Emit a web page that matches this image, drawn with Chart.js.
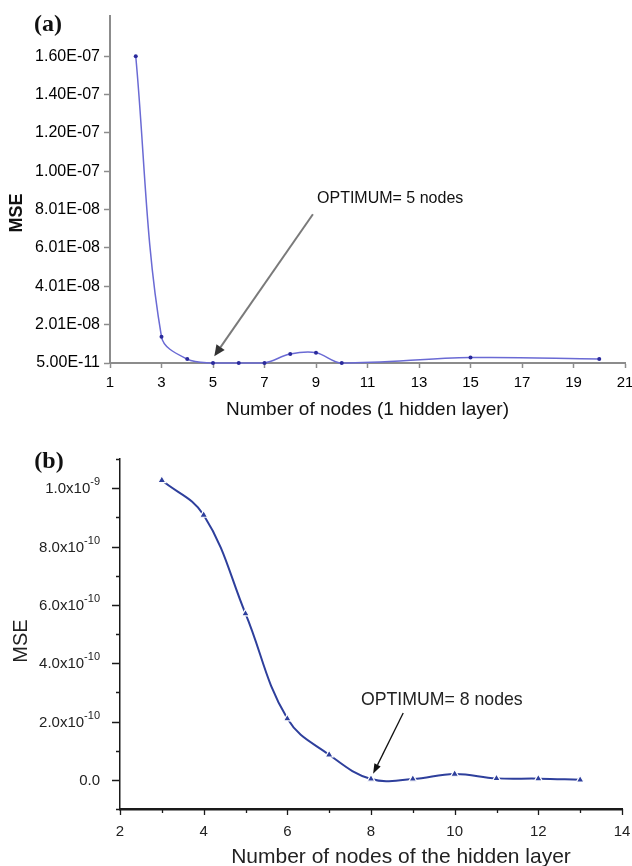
<!DOCTYPE html>
<html>
<head>
<meta charset="utf-8">
<script src="https://cdn.jsdelivr.net/npm/chart.js@4.4.1/dist/chart.umd.min.js"></script>
<style>
  body { margin: 0; background: #fff; width: 632px; height: 866px; position: relative; overflow: hidden; }
  .panel { position: absolute; left: 0; width: 632px; }
  #wrapA { top: 0; height: 425px; }
  #wrapB { top: 430px; height: 436px; }
</style>
</head>
<body>
<div class="panel" id="wrapA"><canvas id="chartA" width="632" height="425"></canvas></div>
<div class="panel" id="wrapB"><canvas id="chartB" width="632" height="436"></canvas></div>
<script>
// ---- panel (a): one hidden layer ----
const nodesA = [2, 3, 4, 5, 6, 7, 8, 9, 10, 15, 20];
const mseA = [1.60e-7, 1.37e-8, 2.1e-9, 6e-11, 6e-11, 6e-11, 4.7e-9, 5.4e-9, 6e-11, 2.9e-9, 2.2e-9];
const xTicksA = [1, 3, 5, 7, 9, 11, 13, 15, 17, 19, 21];
const yTicksA = [5e-11, 2.005e-8, 4.005e-8, 6.005e-8, 8.005e-8, 1.0005e-7, 1.2005e-7, 1.4005e-7, 1.6005e-7];
const yTickLabelsA = ['5.00E-11', '2.01E-08', '4.01E-08', '6.01E-08', '8.01E-08', '1.00E-07', '1.20E-07', '1.40E-07', '1.60E-07'];

// ---- panel (b): nodes of the hidden layer ----
const nodesB = [3, 4, 5, 6, 7, 8, 9, 10, 11, 12, 13];
const mseB = [1.027e-9, 9.08e-10, 5.7e-10, 2.1e-10, 8.6e-11, 3e-12, 3e-12, 2e-11, 5e-12, 4e-12, 0];
const xTicksB = [2, 3, 4, 5, 6, 7, 8, 9, 10, 11, 12, 13, 14];
const xTickLabelsB = ['2', '', '4', '', '6', '', '8', '', '10', '', '12', '', '14'];
const yTicksB = [-1e-10, 0, 1e-10, 2e-10, 3e-10, 4e-10, 5e-10, 6e-10, 7e-10, 8e-10, 9e-10, 1e-9, 1.1e-9];
const yMajorB = [0, 2e-10, 4e-10, 6e-10, 8e-10, 1e-9];
const yLabelBaseB = ['0.0', '2.0x10', '4.0x10', '6.0x10', '8.0x10', '1.0x10'];
const yLabelExpB = ['', '-10', '-10', '-10', '-10', '-9'];

const SANS = '"Liberation Sans", Arial, sans-serif';
const SERIF = '"Liberation Serif", "Times New Roman", serif';

// Free text and arrows; arrows are given in data units and mapped through the scales
const panelDecor = {
    id: 'panelDecor',
    afterDraw(chart, args, opts) {
        const ctx = chart.ctx;
        const xs = chart.scales.x, ys = chart.scales.y;
        ctx.save();
        (opts.arrows || []).forEach(a => {
            const x0 = xs.getPixelForValue(a.from[0]), y0 = ys.getPixelForValue(a.from[1]);
            const x1 = xs.getPixelForValue(a.to[0]), y1 = ys.getPixelForValue(a.to[1]);
            const ang = Math.atan2(y1 - y0, x1 - x0);
            const bx = x1 - a.head * Math.cos(ang), by = y1 - a.head * Math.sin(ang);
            ctx.strokeStyle = a.color;
            ctx.lineWidth = a.width;
            ctx.beginPath();
            ctx.moveTo(x0, y0);
            ctx.lineTo(bx, by);
            ctx.stroke();
            ctx.fillStyle = a.headColor;
            ctx.beginPath();
            ctx.moveTo(x1, y1);
            ctx.lineTo(bx + a.headW * Math.sin(ang), by - a.headW * Math.cos(ang));
            ctx.lineTo(bx - a.headW * Math.sin(ang), by + a.headW * Math.cos(ang));
            ctx.closePath();
            ctx.fill();
        });
        (opts.texts || []).forEach(t => {
            let px = t.x, py = t.y;
            if (t.data) {
                px = xs.getPixelForValue(t.data[0]);
                py = ys.getPixelForValue(t.data[1]);
            }
            ctx.save();
            ctx.font = t.font;
            ctx.fillStyle = t.color || '#111';
            ctx.textAlign = t.align || 'center';
            ctx.textBaseline = 'middle';
            ctx.translate(px, py);
            if (t.rotate) ctx.rotate(t.rotate);
            ctx.fillText(t.text, 0, 0);
            ctx.restore();
        });
        ctx.restore();
    }
};

// Origin-style axes for panel (b): major/minor tick marks and superscript labels
const originAxes = {
    id: 'originAxes',
    afterDraw(chart, args, opts) {
        if (!opts.enabled) return;
        const ctx = chart.ctx;
        const xs = chart.scales.x, ys = chart.scales.y;
        const isMajor = v => yMajorB.some(m => Math.abs(m - v) < 1e-13);
        ctx.save();
        ctx.strokeStyle = '#1a1a1a';
        ctx.lineWidth = 1.3;
        ctx.beginPath();
        ys.ticks.forEach(t => {
            const py = Math.round(ys.getPixelForValue(t.value)) + 0.5;
            const len = isMajor(t.value) ? 8 : 4;
            ctx.moveTo(ys.right - len, py);
            ctx.lineTo(ys.right, py);
        });
        xs.ticks.forEach(t => {
            const px = Math.round(xs.getPixelForValue(t.value)) + 0.5;
            const len = t.value % 2 === 0 ? 6 : 4;
            ctx.moveTo(px, xs.top);
            ctx.lineTo(px, xs.top + len);
        });
        ctx.stroke();

        // y labels with superscript exponent
        const endX = ys.right - 20;
        ctx.fillStyle = '#222';
        ctx.textBaseline = 'middle';
        yMajorB.forEach((v, i) => {
            const py = ys.getPixelForValue(v);
            ctx.font = '11px ' + SANS;
            const supW = ctx.measureText(yLabelExpB[i]).width;
            ctx.textAlign = 'left';
            ctx.fillText(yLabelExpB[i], endX - supW, py - 6);
            ctx.font = '15px ' + SANS;
            ctx.textAlign = 'right';
            ctx.fillText(yLabelBaseB[i], endX - supW, py + 1);
        });
        ctx.restore();
    }
};

Chart.register(panelDecor, originAxes);

const chartA = new Chart(document.getElementById('chartA'), {
    type: 'line',
    data: {
        datasets: [{
            data: nodesA.map((n, i) => ({ x: n, y: mseA[i] })),
            borderColor: '#6a6ad4',
            borderWidth: 1.5,
            pointRadius: 2,
            pointBackgroundColor: '#2a2a9c',
            pointBorderWidth: 0,
            tension: 0.35,
            fill: false,
            clip: false
        }]
    },
    options: {
        responsive: false,
        animation: false,
        events: [],
        layout: { padding: { left: 0, right: 7, top: 16, bottom: 0 } },
        plugins: {
            legend: { display: false },
            tooltip: { enabled: false },
            originAxes: { enabled: false },
            panelDecor: {
                arrows: [{ from: [8.88, 7.76e-8], to: [5.05, 3.6e-9], color: '#7a7a7a', width: 2, head: 11, headW: 5, headColor: '#333' }],
                texts: [
                    { text: '(a)', x: 48, y: 25, font: 'bold 24px ' + SERIF, color: '#111' },
                    { text: 'MSE', x: 17, y: 213, font: 'bold 18px ' + SANS, rotate: -Math.PI / 2, color: '#111' },
                    { text: 'OPTIMUM= 5 nodes', data: [9.04, 8.6e-8], align: 'left', font: '16px ' + SANS, color: '#111' }
                ]
            }
        },
        scales: {
            x: {
                type: 'linear',
                min: 1,
                max: 21,
                afterBuildTicks: s => { s.ticks = xTicksA.map(v => ({ value: v })); },
                ticks: { font: { family: SANS, size: 15 }, color: '#000', padding: 6, maxRotation: 0, autoSkip: false },
                grid: { drawOnChartArea: false, color: '#8c8c8c', tickLength: 5, tickWidth: 1.5 },
                border: { color: '#8c8c8c', width: 2 },
                title: { display: true, text: 'Number of nodes (1 hidden layer)', font: { family: SANS, size: 19 }, color: '#111', padding: { top: 0, bottom: 4 } },
                afterFit(s) { s.height = 62; s.paddingLeft = 0; s.paddingRight = 0; }
            },
            y: {
                type: 'linear',
                min: 5e-11,
                max: 1.81e-7,
                afterBuildTicks: s => { s.ticks = yTicksA.map(v => ({ value: v })); },
                ticks: { callback: (v, i) => yTickLabelsA[i], font: { family: SANS, size: 16 }, color: '#000', padding: 4 },
                grid: { drawOnChartArea: false, color: '#8c8c8c', tickLength: 6, tickWidth: 1.5 },
                border: { color: '#8c8c8c', width: 2 },
                afterFit(s) { s.width = 110; s.paddingTop = 0; s.paddingBottom = 0; }
            }
        }
    }
});

const chartB = new Chart(document.getElementById('chartB'), {
    type: 'line',
    data: {
        datasets: [{
            data: nodesB.map((n, i) => ({ x: n, y: mseB[i] })),
            borderColor: '#2e3f9c',
            borderWidth: 2,
            pointStyle: 'triangle',
            pointRadius: 4.5,
            pointBackgroundColor: '#2e3f9c',
            pointBorderColor: '#ffffff',
            pointBorderWidth: 1.2,
            tension: 0.4,
            fill: false,
            clip: false
        }]
    },
    options: {
        responsive: false,
        animation: false,
        events: [],
        layout: { padding: { left: 0, right: 10, top: 29, bottom: 0 } },
        plugins: {
            legend: { display: false },
            tooltip: { enabled: false },
            originAxes: { enabled: true },
            panelDecor: {
                arrows: [{ from: [8.77, 2.29e-10], to: [8.05, 2.05e-11], color: '#111', width: 1.3, head: 10, headW: 3.5, headColor: '#111' }],
                texts: [
                    { text: '(b)', x: 49, y: 32, font: 'bold 24px ' + SERIF, color: '#111' },
                    { text: 'MSE', x: 21, y: 211, font: '20px ' + SANS, rotate: -Math.PI / 2, color: '#222' },
                    { text: 'OPTIMUM= 8 nodes', data: [7.76, 2.74e-10], align: 'left', font: '17.7px ' + SANS, color: '#222' },
                    { text: 'Number of nodes of the hidden layer', x: 401, y: 427, font: '21px ' + SANS, color: '#222' }
                ]
            }
        },
        scales: {
            x: {
                type: 'linear',
                min: 2,
                max: 14,
                afterBuildTicks: s => { s.ticks = xTicksB.map(v => ({ value: v })); },
                ticks: { callback: (v, i) => xTickLabelsB[i], font: { family: SANS, size: 15 }, color: '#222', padding: 6, maxRotation: 0, autoSkip: false },
                grid: { display: false },
                border: { color: '#1a1a1a', width: 2.5 },
                afterFit(s) { s.height = 57; s.paddingLeft = 0; s.paddingRight = 0; }
            },
            y: {
                type: 'linear',
                min: -1e-10,
                max: 1.1e-9,
                afterBuildTicks: s => { s.ticks = yTicksB.map(v => ({ value: v })); },
                ticks: { display: false },
                grid: { display: false },
                border: { color: '#1a1a1a', width: 1.5 },
                afterFit(s) { s.width = 120; s.paddingTop = 0; s.paddingBottom = 0; }
            }
        }
    }
});
</script>
</body>
</html>
